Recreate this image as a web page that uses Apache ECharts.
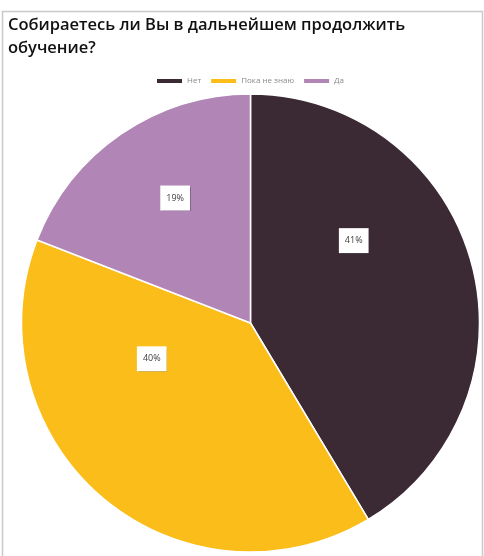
<!DOCTYPE html>
<html>
<head>
<meta charset="utf-8">
<script src="https://cdn.jsdelivr.net/npm/echarts@6/dist/echarts.min.js"></script>
<style>
  html, body { margin: 0; padding: 0; background: #fff; }
  #chart { width: 484px; height: 556px; }
</style>
</head>
<body>
<div id="chart"></div>
<script>
// ---- data ----
const titleText = 'Собираетесь ли Вы в дальнейшем продолжить\nобучение?';
const categories = ['Нет', 'Пока не знаю', 'Да'];
const values = [41.4, 39.5, 19.1];

// ---- styles / layout (kept separate from data) ----
const sliceColors = ['#3b2934', '#fbbd19', '#b185b5'];
const labelOffsets = [[-10, -51], [-23, -54], [-9, -28]];

const chart = echarts.init(document.getElementById('chart'), null, { renderer: 'canvas' });

const seriesData = categories.map((name, i) => ({
  name: name,
  value: values[i],
  itemStyle: { color: sliceColors[i] },
  label: { offset: labelOffsets[i] }
}));

chart.setOption({
  animation: false,
  backgroundColor: '#fff',
  graphic: [{
    type: 'rect',
    shape: { x: 2.5, y: 11.5, width: 480, height: 560 },
    style: { fill: 'none', stroke: '#c9c9c9', lineWidth: 1.5 },
    silent: true
  }],
  title: {
    text: titleText,
    left: 3,
    top: 9,
    textStyle: {
      fontFamily: 'Open Sans',
      fontWeight: 600,
      fontSize: 16.5,
      lineHeight: 23,
      color: '#111'
    }
  },
  legend: {
    data: categories,
    left: 155,
    top: 77,
    itemWidth: 27,
    itemHeight: 6,
    itemGap: 8,
    icon: 'rect',
    padding: 0,
    textStyle: { fontFamily: 'Open Sans', fontSize: 8, color: '#8a8a8a', padding: [0, 0, 0, -1] }
  },
  series: [{
    type: 'pie',
    center: [250.5, 323],
    radius: 229,
    startAngle: 90,
    clockwise: true,
    avoidLabelOverlap: false,
    itemStyle: { borderColor: '#fff', borderWidth: 1.5 },
    label: {
      show: true,
      position: 'inside',
      formatter: p => Math.round(p.value / values.reduce((a, b) => a + b, 0) * 100) + '%',
      fontFamily: 'Open Sans',
      fontSize: 9,
      color: '#404040',
      backgroundColor: '#fff',
      padding: [8, 6],
      shadowColor: 'rgba(0,0,0,0.25)',
      shadowBlur: 1,
      shadowOffsetX: 0.5,
      shadowOffsetY: 0.5
    },
    labelLine: { show: false },
    emphasis: { disabled: true },
    data: seriesData
  }]
});
</script>
</body>
</html>
